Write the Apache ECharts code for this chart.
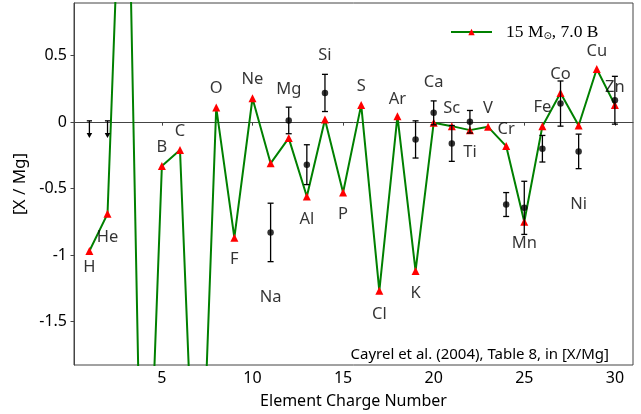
<!DOCTYPE html>
<html>
<head>
<meta charset="utf-8">
<script src="https://cdn.jsdelivr.net/npm/echarts@6/dist/echarts.min.js"></script>
<style>
html,body{margin:0;padding:0;background:#fff;}
#chart{width:641px;height:414px;}
</style>
</head>
<body>
<div id="chart"></div>
<script>
// ---- data ----
var elements = ['H','He','Li','Be','B','C','N','O','F','Ne','Na','Mg','Al','Si','P','S','Cl','Ar','K','Ca','Sc','Ti','V','Cr','Mn','Fe','Co','Ni','Cu','Zn'];
var charge = [1,2,3,4,5,6,7,8,9,10,11,12,13,14,15,16,17,18,19,20,21,22,23,24,25,26,27,28,29,30];
var modelValues = [-0.97,-0.69,3.0,-4.0,-0.33,-0.21,-3.6,0.11,-0.87,0.18,-0.31,-0.12,-0.56,0.02,-0.53,0.13,-1.27,0.045,-1.12,-0.005,-0.03,-0.06,-0.035,-0.18,-0.75,-0.03,0.22,-0.025,0.40,0.13];

var obsCharge = [11,12,13,14,19,20,21,22,24,25,26,27,28,30];
var obsValues = [-0.83,0.013,-0.32,0.22,-0.13,0.07,-0.16,0.003,-0.62,-0.645,-0.20,0.14,-0.22,0.165];
var obsErrors = [0.22,0.10,0.15,0.14,0.14,0.09,0.135,0.085,0.09,0.20,0.10,0.17,0.13,0.18];

var limitCharge = [1,2];
var limitTop = [0.01,0.01];
var limitTip = [-0.12,-0.12];

var labelElements = ['H','He','B','C','O','F','Ne','Na','Mg','Al','Si','P','S','Cl','Ar','K','Ca','Sc','Ti','V','Cr','Mn','Fe','Co','Ni','Cu','Zn'];
var labelCharge = [1,2,5,6,8,9,10,11,12,13,14,15,16,17,18,19,20,21,22,23,24,25,26,27,28,29,30];
var labelY = [-1.09,-0.865,-0.19,-0.067,0.257,-1.033,0.32,-1.32,0.25,-0.728,0.507,-0.696,0.27,-1.445,0.175,-1.29,0.297,0.108,-0.229,0.108,-0.05,-0.91,0.115,0.357,-0.62,0.537,0.262];

var xTicks = [5,10,15,20,25,30];
var yTicks = [-1.5,-1,-0.5,0,0.5];
var xTitle = 'Element Charge Number';
var yTitle = '[X / Mg]';
var legendName = '15 M⊙, 7.0 B';
var noteText = 'Cayrel et al. (2004), Table 8, in [X/Mg]';

// ---- chart ----
var FONT = 'Noto Sans';
var chart = echarts.init(document.getElementById('chart'), null, {renderer:'canvas'});

var modelData = charge.map(function(z,i){ return [z, modelValues[i]]; });
var obsData = obsCharge.map(function(z,i){ return [z, obsValues[i], obsErrors[i]]; });
var limitData = limitCharge.map(function(z,i){ return [z, limitTop[i], limitTip[i]]; });
var labelData = labelCharge.map(function(z,i){ return {value:[z, labelY[i]], name: labelElements[i]}; });

var axisColor = '#444';

var option = {
  backgroundColor: '#fff',
  animation: false,
  grid: {left:74, top:3, right:8, bottom:47, show:true, borderColor:axisColor, borderWidth:1, backgroundColor:'transparent'},
  xAxis: {
    type:'value', min:0.15, max:31,
    name: xTitle, nameLocation:'middle', nameGap:28,
    nameTextStyle:{fontFamily:FONT, fontSize:16, color:'#000'},
    axisLine:{show:true, lineStyle:{color:axisColor, width:1}},
    axisTick:{show:true, length:3.5, lineStyle:{color:axisColor}, customValues:xTicks},
    axisLabel:{fontFamily:FONT, fontSize:16, color:'#000', margin:5, customValues:xTicks},
    splitLine:{show:false}
  },
  yAxis: {
    type:'value', min:-1.828, max:0.897,
    name: yTitle, nameLocation:'middle', nameGap:38, nameRotate:90,
    nameTextStyle:{fontFamily:FONT, fontSize:17, color:'#000'},
    axisLine:{show:true, lineStyle:{color:axisColor, width:1}},
    axisTick:{show:true, length:3.5, lineStyle:{color:axisColor}, customValues:yTicks},
    axisLabel:{fontFamily:FONT, fontSize:16, color:'#000', margin:7, customValues:yTicks,
      formatter:function(v){ return String(v); }},
    splitLine:{show:false}
  },
  legend: {
    show:true, left:450, top:23, padding:0, itemWidth:41, itemHeight:8, itemGap:0,
    data:[{name:legendName}],
    textStyle:{fontFamily:'Liberation Serif', fontSize:17.5, color:'#000', padding:[0,0,0,9],
      rich:{sub:{fontFamily:'DejaVu Sans', fontSize:10, verticalAlign:'bottom', padding:[8,0,0,0]}}},
    formatter:function(){ return '15 M{sub|⊙}, 7.0 B'; }
  },
  graphic: [{
    type:'text', x:609, y:355,
    style:{text:noteText, fontFamily:FONT, fontSize:15, fill:'#000', align:'right', verticalAlign:'middle'}
  }],
  series: [
    {
      name: legendName, type:'line', data:modelData, clip:true,
      symbol:'triangle', symbolSize:8, showAllSymbol:true,
      lineStyle:{color:'#008000', width:2},
      itemStyle:{color:'#ff0000'},
      z:2
    },
    {
      type:'custom', name:'errbars', data:obsData, clip:true, z:3,
      renderItem:function(params, api){
        var x = api.value(0), y = api.value(1), e = api.value(2);
        var top = api.coord([x, y+e]), bot = api.coord([x, y-e]);
        var hw = 3;
        var st = {stroke:'#000', lineWidth:1.3};
        return {type:'group', children:[
          {type:'line', shape:{x1:top[0], y1:top[1], x2:bot[0], y2:bot[1]}, style:st},
          {type:'line', shape:{x1:top[0]-hw, y1:top[1], x2:top[0]+hw, y2:top[1]}, style:st},
          {type:'line', shape:{x1:bot[0]-hw, y1:bot[1], x2:bot[0]+hw, y2:bot[1]}, style:st}
        ]};
      }
    },
    {
      type:'scatter', name:'obs', data:obsData.map(function(d){return [d[0], d[1]];}),
      symbol:'circle', symbolSize:6.5, itemStyle:{color:'#000'}, z:4
    },
    {
      type:'custom', name:'limits', data:limitData, z:3,
      renderItem:function(params, api){
        var x = api.value(0);
        var top = api.coord([x, api.value(1)]), tip = api.coord([x, api.value(2)]);
        var hw = 2.6;
        var st = {stroke:'#000', lineWidth:1.3};
        return {type:'group', children:[
          {type:'line', shape:{x1:top[0], y1:top[1], x2:tip[0], y2:tip[1]-3}, style:st},
          {type:'line', shape:{x1:top[0]-hw, y1:top[1], x2:top[0]+hw, y2:top[1]}, style:st},
          {type:'polygon', shape:{points:[[tip[0]-2.8, tip[1]-5],[tip[0]+2.8, tip[1]-5],[tip[0], tip[1]]]}, style:{fill:'#000'}}
        ]};
      }
    },
    {
      type:'scatter', name:'labels', data:labelData, symbolSize:1, itemStyle:{color:'transparent'},
      z:5, silent:true,
      label:{show:true, position:'inside', formatter:'{b}', fontFamily:FONT, fontSize:16.5, color:'#000'}
    }
  ]
};
chart.setOption(option);
</script>
</body>
</html>
